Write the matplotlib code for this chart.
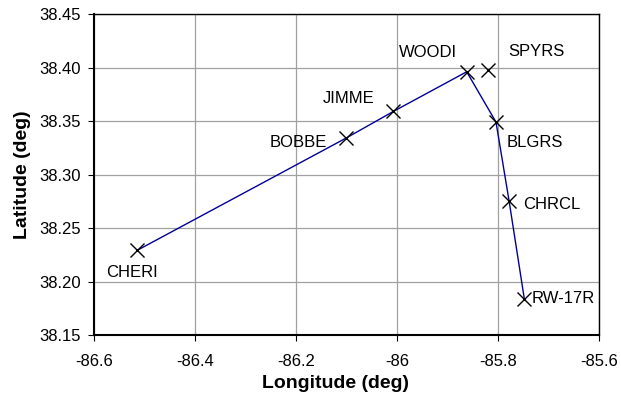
import matplotlib.pyplot as plt
from matplotlib.ticker import FormatStrFormatter, FuncFormatter

plt.rcParams['font.family'] = ['Liberation Sans', 'DejaVu Sans']

##### waypoints #####
names = ['CHERI', 'BOBBE', 'JIMME', 'WOODI', 'SPYRS', 'BLGRS', 'CHRCL', 'RW-17R']
lon = [-86.515, -86.101, -86.007, -85.862, -85.819, -85.804, -85.778, -85.748]
lat = [38.229, 38.334, 38.359, 38.396, 38.398, 38.349, 38.275, 38.184]

# flown route (SPYRS is skipped)
route = ['CHERI', 'BOBBE', 'JIMME', 'WOODI', 'BLGRS', 'CHRCL', 'RW-17R']

# label offsets in points, and alignment
label_pos = {
    'CHERI': (-22, -16, 'left', 'center'),
    'BOBBE': (-14, -3, 'right', 'center'),
    'JIMME': (-14, 9, 'right', 'center'),
    'WOODI': (-7, 14, 'right', 'center'),
    'SPYRS': (14, 13, 'left', 'center'),
    'BLGRS': (8, -15, 'left', 'center'),
    'CHRCL': (10, -2, 'left', 'center'),
    'RW-17R': (5, 0, 'left', 'center'),
}

fig = plt.figure(figsize=(6.21, 4.0), dpi=100)
ax = fig.add_axes([0.1514, 0.1625, 0.8132, 0.8025])

idx = [names.index(n) for n in route]
ax.plot([lon[i] for i in idx], [lat[i] for i in idx], color='#000099', lw=1.0, zorder=2)
ax.plot(lon, lat, ls='none', marker='x', color='black', ms=10, mew=1.0, zorder=3)

for n, x, y in zip(names, lon, lat):
    dx, dy, ha, va = label_pos[n]
    ax.annotate(n, (x, y), xytext=(dx, dy), textcoords='offset points',
                ha=ha, va=va, fontsize=12)

ax.set_xlim(-86.6, -85.6)
ax.set_ylim(38.15, 38.45)
ax.set_xticks([-86.6, -86.4, -86.2, -86.0, -85.8, -85.6])
ax.set_yticks([38.15, 38.20, 38.25, 38.30, 38.35, 38.40, 38.45])
ax.xaxis.set_major_formatter(FuncFormatter(lambda v, p: '%g' % round(v, 2)))
ax.yaxis.set_major_formatter(FormatStrFormatter('%.2f'))
ax.tick_params(direction='out', length=4.5, labelsize=12)
ax.tick_params(axis='x', pad=9)
ax.tick_params(axis='y', pad=5)
ax.grid(True, color='#a0a0a0', lw=0.9)
ax.set_axisbelow(True)
for s in ax.spines.values():
    s.set_color('black')
    s.set_linewidth(1.0)
ax.spines['left'].set_linewidth(1.5)
ax.spines['bottom'].set_linewidth(1.5)

ax.set_xlabel('Longitude (deg)', fontsize=14, fontweight='bold')
ax.xaxis.set_label_coords(0.478, -0.125)
ax.set_ylabel('Latitude (deg)', fontsize=14, fontweight='bold', labelpad=6)

fig.savefig('out.png', dpi=100)
